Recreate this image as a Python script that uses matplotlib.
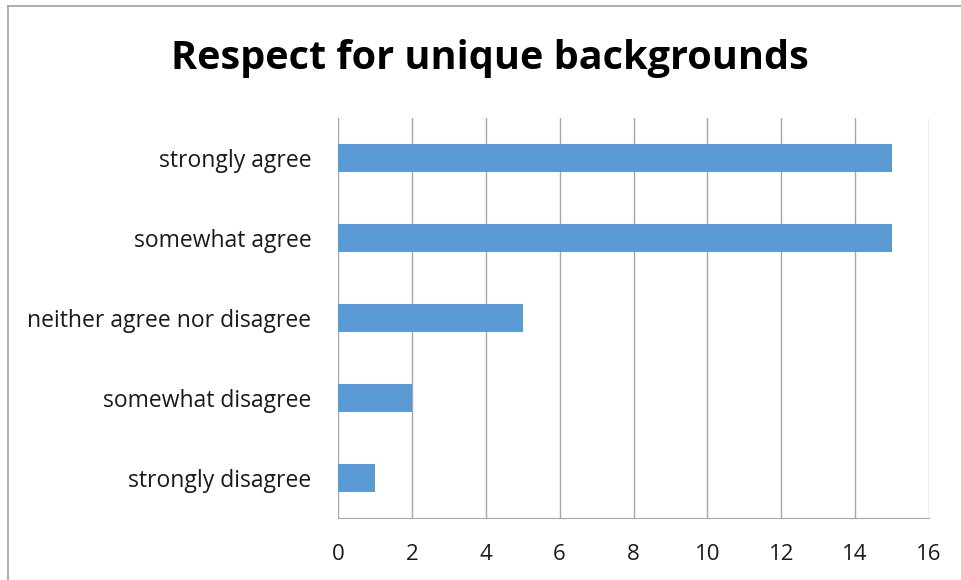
import matplotlib.pyplot as plt
from matplotlib.lines import Line2D

categories = ["strongly disagree", "somewhat disagree", "neither agree nor disagree",
              "somewhat agree", "strongly agree"]
counts = [1, 2, 5, 15, 15]
x_ticks = list(range(0, 17, 2))

bar_color = "#5B9BD5"
grid_color = "#A6A6A6"

plt.rcParams['font.family'] = ['Open Sans', 'DejaVu Sans']

fig = plt.figure(figsize=(9.61, 5.80), dpi=100)
ax = fig.add_axes([338 / 961, 1 - 518 / 580, (929 - 338) / 961, (518 - 118) / 580])

ax.barh(range(len(categories)), counts, height=0.355, color=bar_color, zorder=3)
ax.set_xlim(0, 16)
ax.set_ylim(-0.5, len(categories) - 0.5)
ax.set_xticks(x_ticks)
ax.set_yticks(range(len(categories)))
ax.set_yticklabels(categories)
ax.tick_params(length=0, colors="#1a1a1a")
ax.tick_params(axis="x", pad=19, labelsize=16)
ax.tick_params(axis="y", pad=26, labelsize=16.5)
ax.tick_params(axis="y", pad=19)

ax.grid(axis="x", color=grid_color, linewidth=1, zorder=0)
for side in ["top", "right", "left"]:
    ax.spines[side].set_visible(False)
ax.spines["bottom"].set_color(grid_color)

fig.text(490 / 961, 1 - 58 / 580, "Respect for unique backgrounds", ha="center", va="center",
         fontsize=28.5, fontweight="bold")

# chart frame (left and top edges visible)
fig.add_artist(Line2D([8 / 961, 8 / 961], [0, 1 - 6 / 580], color="#A0A0A0", lw=1.2,
                      transform=fig.transFigure))
fig.add_artist(Line2D([8 / 961, 1], [1 - 6 / 580, 1 - 6 / 580], color="#A0A0A0", lw=1.2,
                      transform=fig.transFigure))

fig.savefig("out.png", dpi=100)
